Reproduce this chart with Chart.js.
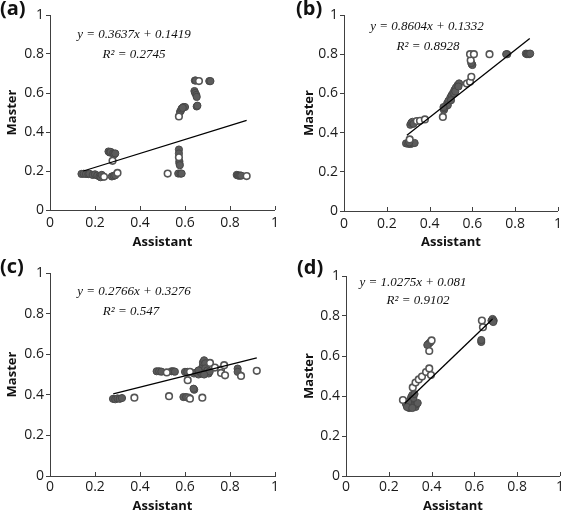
<!DOCTYPE html>
<html>
<head>
<meta charset="utf-8">
<script src="https://cdn.jsdelivr.net/npm/chart.js@4.4.1/dist/chart.umd.min.js"></script>
<style>
  body { margin: 0; background: #fff; }
  #wrap { position: relative; width: 567px; height: 516px; }
  canvas { position: absolute; }
</style>
</head>
<body>
<div id="wrap">
  <canvas id="chartA" width="284" height="258" style="left:0;top:0"></canvas>
  <canvas id="chartB" width="283" height="258" style="left:284px;top:0"></canvas>
  <canvas id="chartC" width="284" height="258" style="left:0;top:258px"></canvas>
  <canvas id="chartD" width="283" height="258" style="left:284px;top:258px"></canvas>
</div>
<script>
// axis tick labels (same for both axes, all panels)
const tickLabels = ['0', '0.2', '0.4', '0.6', '0.8', '1'];

// (a)
const aFilledX = [0.14, 0.15, 0.16, 0.17, 0.175, 0.19, 0.20, 0.21, 0.22, 0.225, 0.23,
  0.26, 0.265, 0.27, 0.28, 0.285, 0.29, 0.275, 0.283, 0.29,
  0.57, 0.58, 0.585, 0.573, 0.573, 0.575, 0.575, 0.577,
  0.578, 0.582, 0.585, 0.593, 0.60, 0.59, 0.644, 0.648,
  0.642, 0.645, 0.65, 0.652, 0.652, 0.655, 0.708, 0.713,
  0.83, 0.835, 0.84, 0.845, 0.85];
const aFilledY = [0.185, 0.186, 0.185, 0.184, 0.186, 0.18, 0.183, 0.177, 0.172, 0.168, 0.18,
  0.30, 0.295, 0.298, 0.29, 0.285, 0.29, 0.172, 0.175, 0.178,
  0.187, 0.187, 0.187, 0.31, 0.29, 0.25, 0.24, 0.23,
  0.503, 0.51, 0.52, 0.528, 0.528, 0.524, 0.664, 0.664,
  0.61, 0.60, 0.59, 0.58, 0.531, 0.535, 0.661, 0.661,
  0.18, 0.177, 0.176, 0.177, 0.176];
const aOpenX = [0.24, 0.278, 0.30, 0.523, 0.573, 0.573, 0.662, 0.874];
const aOpenY = [0.17, 0.252, 0.19, 0.187, 0.27, 0.48, 0.661, 0.174];
const aTrendX = [0.148, 0.874];
const aTrendY = [0.20, 0.46];

// (b)
const bFilledX = [0.29, 0.30, 0.31, 0.32, 0.33, 0.305, 0.31, 0.315, 0.32, 0.325,
  0.467, 0.473, 0.482, 0.488, 0.497, 0.503, 0.51, 0.516, 0.523, 0.531, 0.538,
  0.47, 0.485, 0.50, 0.515, 0.52, 0.535, 0.465,
  0.597, 0.60, 0.595, 0.763, 0.758, 0.85, 0.855, 0.86, 0.865, 0.87];
const bFilledY = [0.345, 0.343, 0.342, 0.345, 0.347, 0.35, 0.44, 0.45, 0.455, 0.445,
  0.515, 0.532, 0.549, 0.562, 0.579, 0.591, 0.603, 0.617, 0.63, 0.642, 0.651,
  0.525, 0.54, 0.565, 0.60, 0.61, 0.635, 0.53,
  0.749, 0.745, 0.755, 0.80, 0.80, 0.803, 0.80, 0.802, 0.80, 0.803];
const bOpenX = [0.307, 0.34, 0.355, 0.378, 0.462, 0.574, 0.589, 0.595, 0.592, 0.589, 0.607, 0.68];
const bOpenY = [0.365, 0.459, 0.46, 0.467, 0.48, 0.65, 0.659, 0.685, 0.769, 0.80, 0.80, 0.80];
const bTrendX = [0.294, 0.868];
const bTrendY = [0.387, 0.88];

// (c)
const cFilledX = [0.28, 0.29, 0.30, 0.31, 0.32, 0.474, 0.485, 0.495, 0.54, 0.548, 0.555,
  0.60, 0.61, 0.593, 0.605, 0.641, 0.638,
  0.64, 0.65, 0.66, 0.665, 0.67, 0.675, 0.68, 0.68, 0.685, 0.69, 0.69, 0.695,
  0.70, 0.705, 0.71, 0.675, 0.66, 0.685, 0.834, 0.834];
const cFilledY = [0.38, 0.378, 0.382, 0.38, 0.384, 0.516, 0.516, 0.514, 0.516, 0.516, 0.514,
  0.513, 0.513, 0.389, 0.389, 0.425, 0.43,
  0.505, 0.51, 0.50, 0.515, 0.52, 0.53, 0.545, 0.56, 0.57, 0.555, 0.53, 0.51,
  0.52, 0.505, 0.515, 0.505, 0.52, 0.50, 0.529, 0.513];
const cOpenX = [0.375, 0.519, 0.529, 0.622, 0.612, 0.615, 0.622, 0.677, 0.711, 0.733,
  0.76, 0.774, 0.76, 0.778, 0.849, 0.919];
const cOpenY = [0.386, 0.51, 0.393, 0.513, 0.472, 0.386, 0.381, 0.386, 0.557, 0.534,
  0.524, 0.546, 0.508, 0.496, 0.493, 0.518];
const cTrendX = [0.281, 0.919];
const cTrendY = [0.405, 0.582];

// (d)
const dFilledX = [0.28, 0.29, 0.295, 0.30, 0.305, 0.31, 0.315, 0.32, 0.325, 0.33, 0.335,
  0.30, 0.305, 0.31, 0.315, 0.32, 0.29, 0.285, 0.31,
  0.385, 0.39, 0.395, 0.38, 0.632, 0.632, 0.68, 0.685, 0.69, 0.688];
const dFilledY = [0.36, 0.35, 0.34, 0.345, 0.36, 0.37, 0.35, 0.355, 0.345, 0.36, 0.365,
  0.38, 0.395, 0.405, 0.39, 0.41, 0.37, 0.345, 0.34,
  0.66, 0.665, 0.67, 0.655, 0.67, 0.68, 0.777, 0.785, 0.777, 0.77];
const dOpenX = [0.266, 0.312, 0.325, 0.34, 0.355, 0.374, 0.389, 0.397, 0.389, 0.40, 0.635, 0.64];
const dOpenY = [0.38, 0.443, 0.467, 0.483, 0.497, 0.52, 0.538, 0.505, 0.625, 0.678, 0.777, 0.744];
const dTrendX = [0.275, 0.685];
const dTrendY = [0.364, 0.785];

Chart.defaults.font.family = '"Open Sans", sans-serif';
Chart.defaults.color = '#1a1a1a';

const pts = (xs, ys) => xs.map((x, i) => ({ x: x, y: ys[i] }));

// panel letter, regression text and inward x tick marks
const panelText = {
    id: 'panelText',
    afterDraw(chart) {
        const p = chart.options.plugins.panelText;
        const ctx = chart.ctx;
        const xs = chart.scales.x;
        const bottom = chart.chartArea.bottom;
        ctx.save();
        ctx.strokeStyle = '#404040';
        ctx.lineWidth = 1;
        xs.ticks.forEach(t => {
            const px = Math.round(xs.getPixelForValue(t.value)) + 0.5;
            ctx.beginPath();
            ctx.moveTo(px, bottom);
            ctx.lineTo(px, bottom - 4);
            ctx.stroke();
        });
        ctx.fillStyle = '#111';
        ctx.font = 'bold 20px "Open Sans", sans-serif';
        ctx.textAlign = 'left';
        ctx.textBaseline = 'alphabetic';
        ctx.fillText(p.label, p.labelX, p.labelY);
        ctx.font = 'italic 13px "Liberation Serif", serif';
        ctx.textAlign = 'center';
        ctx.textBaseline = 'middle';
        ctx.fillText(p.eq, p.eqX, p.eqY);
        ctx.fillText(p.r2, p.r2X, p.r2Y);
        ctx.restore();
    }
};

function makePanel(id, p) {
    return new Chart(document.getElementById(id), {
        type: 'scatter',
        data: {
            datasets: [
                {
                    data: pts(p.trendX, p.trendY),
                    showLine: true,
                    borderColor: '#000',
                    borderWidth: 1.3,
                    pointRadius: 0,
                    order: 0
                },
                {
                    data: pts(p.openX, p.openY),
                    backgroundColor: '#fff',
                    borderColor: '#555',
                    borderWidth: 1.6,
                    pointRadius: 3.3,
                    order: 1
                },
                {
                    data: pts(p.filledX, p.filledY),
                    backgroundColor: '#5c5c5c',
                    borderColor: '#474747',
                    borderWidth: 1,
                    pointRadius: 3.6,
                    order: 2
                }
            ]
        },
        options: {
            responsive: false,
            animation: false,
            layout: { padding: p.pad },
            plugins: {
                legend: { display: false },
                tooltip: { enabled: false },
                panelText: p.text
            },
            scales: {
                x: {
                    type: 'linear',
                    min: 0,
                    max: 1,
                    ticks: {
                        stepSize: 0.2,
                        maxRotation: 0,
                        padding: p.xTickPad,
                        font: { size: 14 },
                        callback: v => tickLabels[Math.round(v * 5)]
                    },
                    grid: { display: false, drawTicks: false },
                    border: { color: '#404040', width: 1 },
                    title: {
                        display: true,
                        text: 'Assistant',
                        color: '#111',
                        font: { size: 13, weight: 'bold' },
                        padding: { top: 0, bottom: p.xTitlePad }
                    },
                    afterFit: s => { s.height = p.xHeight; }
                },
                y: {
                    type: 'linear',
                    min: 0,
                    max: 1,
                    ticks: {
                        stepSize: 0.2,
                        padding: 2,
                        font: { size: 14 },
                        callback: v => tickLabels[Math.round(v * 5)]
                    },
                    grid: { display: true, drawOnChartArea: false, drawTicks: true, tickLength: 4, color: '#404040' },
                    border: { color: '#404040', width: 1 },
                    title: {
                        display: true,
                        text: 'Master',
                        color: '#111',
                        font: { size: 13, weight: 'bold' },
                        padding: { top: 4, bottom: 0 }
                    },
                    afterFit: s => { s.width = p.yWidth; }
                }
            }
        },
        plugins: [panelText]
    });
}

makePanel('chartA', {
    filledX: aFilledX, filledY: aFilledY, openX: aOpenX, openY: aOpenY, trendX: aTrendX, trendY: aTrendY,
    pad: { left: 0, right: 9, top: 15, bottom: 0 }, yWidth: 50, xHeight: 48, xTickPad: 5, xTitlePad: 8,
    text: { label: '(a)', labelX: 0, labelY: 15, eq: 'y = 0.3637x + 0.1419', eqX: 134, eqY: 35, r2: 'R² = 0.2745', r2X: 134, r2Y: 55 }
});
makePanel('chartB', {
    filledX: bFilledX, filledY: bFilledY, openX: bOpenX, openY: bOpenY, trendX: bTrendX, trendY: bTrendY,
    pad: { left: 13, right: 4, top: 15, bottom: 0 }, yWidth: 47, xHeight: 47, xTickPad: 5, xTitlePad: 8,
    text: { label: '(b)', labelX: 12, labelY: 15, eq: 'y = 0.8604x + 0.1332', eqX: 143, eqY: 27, r2: 'R² = 0.8928', r2X: 144, r2Y: 47 }
});
makePanel('chartC', {
    filledX: cFilledX, filledY: cFilledY, openX: cOpenX, openY: cOpenY, trendX: cTrendX, trendY: cTrendY,
    pad: { left: 0, right: 9, top: 15, bottom: 0 }, yWidth: 50, xHeight: 40, xTickPad: 3, xTitlePad: 2,
    text: { label: '(c)', labelX: 0, labelY: 15, eq: 'y = 0.2766x + 0.3276', eqX: 134, eqY: 34, r2: 'R² = 0.547', r2X: 131, r2Y: 54 }
});
makePanel('chartD', {
    filledX: dFilledX, filledY: dFilledY, openX: dOpenX, openY: dOpenY, trendX: dTrendX, trendY: dTrendY,
    pad: { left: 13, right: 5, top: 18, bottom: 0 }, yWidth: 49, xHeight: 40, xTickPad: 3, xTitlePad: 2,
    text: { label: '(d)', labelX: 13, labelY: 16, eq: 'y = 1.0275x + 0.081', eqX: 129, eqY: 25, r2: 'R² = 0.9102', r2X: 134, r2Y: 43 }
});
</script>
</body>
</html>
